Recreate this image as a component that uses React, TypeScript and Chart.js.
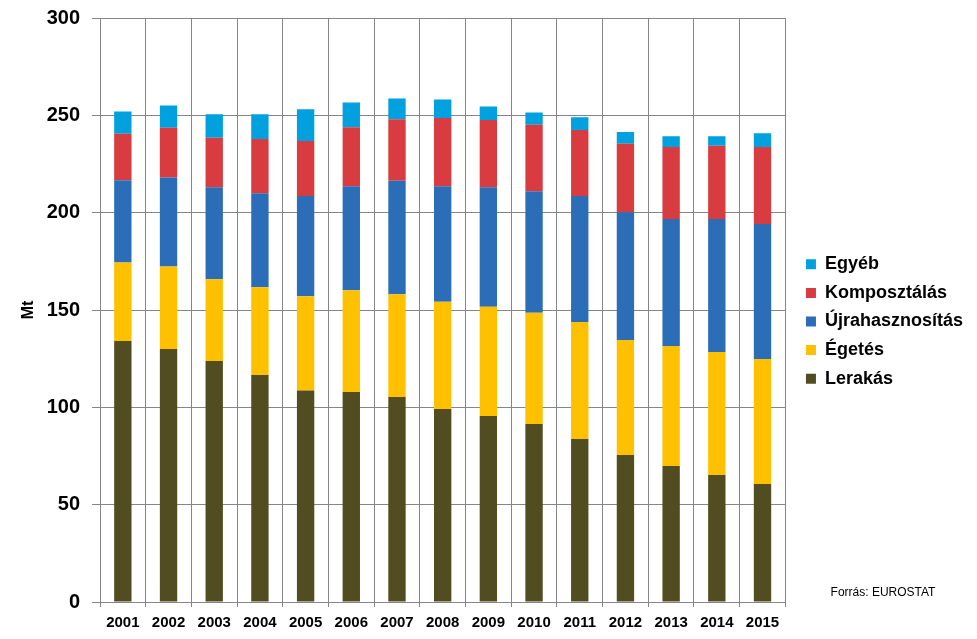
import React, { useEffect, useRef } from "react";
import { Chart, registerables } from "chart.js";

Chart.register(...registerables);

const years = ["2001", "2002", "2003", "2004", "2005", "2006", "2007", "2008", "2009", "2010", "2011", "2012", "2013", "2014", "2015"];
const lerakas = [134.1, 130.0, 123.8, 116.6, 108.6, 107.9, 105.3, 99.1, 95.5, 91.4, 83.7, 75.5, 69.9, 65.2, 60.6];
const egetes = [40.3, 42.4, 42.0, 45.1, 48.5, 52.3, 52.8, 55.1, 56.2, 57.2, 60.1, 59.1, 61.6, 63.2, 64.2];
const ujrahasznositas = [42.2, 45.7, 47.3, 48.3, 51.4, 53.4, 58.3, 59.4, 61.4, 62.4, 64.7, 65.6, 65.3, 68.4, 69.4];
const komposztalas = [23.9, 25.5, 25.4, 27.8, 28.3, 30.3, 31.6, 35.0, 34.5, 34.1, 34.0, 35.2, 36.9, 37.6, 39.5];
const egyeb = [11.5, 11.5, 12.0, 12.7, 16.3, 12.7, 10.6, 9.5, 7.0, 6.4, 6.5, 6.0, 5.6, 4.9, 7.1];

const yTicks = [0, 50, 100, 150, 200, 250, 300];
const axisTitle = "Mt";
const sourceText = "Forrás: EUROSTAT";

const FONT = "'Liberation Sans', Arial, sans-serif";
const GRID = "#868686";

export default function App() {
  const ref = useRef<HTMLCanvasElement | null>(null);

  useEffect(() => {
    const canvas = ref.current;
    if (!canvas) return;
    const sourcePlugin = {
      id: "sourceText",
      afterLayout(chart: any) {
        const lg = chart.legend;
        if (lg) {
          lg.left += 10;
          lg.right += 10;
          lg.top -= 7;
          lg.bottom -= 7;
        }
      },
      afterDraw(chart: any) {
        const ctx = chart.ctx;
        ctx.save();
        ctx.font = `12px ${FONT}`;
        ctx.fillStyle = "#000";
        ctx.textAlign = "center";
        ctx.textBaseline = "middle";
        ctx.fillText(sourceText, 883, 593);
        ctx.restore();
      },
    };
    const mk = (label: string, data: number[], color: string) => ({
      label,
      data,
      backgroundColor: color,
      borderWidth: 0,
      barPercentage: 0.38,
      categoryPercentage: 1,
    });
    const chart = new Chart(canvas, {
      type: "bar",
      data: {
        labels: years,
        datasets: [
          mk("Lerakás", lerakas, "#514D21"),
          mk("Égetés", egetes, "#FFC000"),
          mk("Újrahasznosítás", ujrahasznositas, "#2B6DB7"),
          mk("Komposztálás", komposztalas, "#D83B40"),
          mk("Egyéb", egyeb, "#00A1DE"),
        ],
      },
      options: {
        responsive: false,
        animation: false,
        devicePixelRatio: 1,
        layout: { padding: { top: 18, bottom: 0, left: 0, right: 14 } },
        plugins: {
          tooltip: { enabled: false },
          legend: {
            position: "right",
            reverse: true,
            labels: {
              boxWidth: 10,
              boxHeight: 10,
              padding: 10.6,
              color: "#000",
              font: { family: FONT, size: 18, weight: "bold" },
            },
          },
        },
        scales: {
          x: {
            stacked: true,
            grid: { color: GRID, lineWidth: 1, tickLength: 5, offset: true, drawTicks: true },
            border: { display: true, color: GRID },
            ticks: { color: "#000", padding: 7, font: { family: FONT, size: 15, weight: "bold" } },
          },
          y: {
            stacked: true,
            min: 0,
            max: 300,
            afterFit: (s: any) => {
              s.width = 100;
              s.paddingTop = 0;
              s.paddingBottom = 0;
            },
            afterBuildTicks: (s: any) => { s.ticks = yTicks.map((v) => ({ value: v })); },
            grid: { color: GRID, lineWidth: 1, tickLength: 8, drawTicks: true },
            border: { display: true, color: GRID },
            ticks: { color: "#000", padding: 12, font: { family: FONT, size: 20, weight: "bold" } },
            title: {
              display: true,
              text: axisTitle,
              color: "#000",
              padding: { top: 19, bottom: 0 },
              font: { family: FONT, size: 16, weight: "bold" },
            },
          },
        },
      },
      plugins: [sourcePlugin],
    } as any);
    return () => chart.destroy();
  }, []);

  return (
    <div style={{ position: "absolute", left: 0, top: 0, width: 977, height: 639, background: "#fff" }}>
      <canvas ref={ref} width={977} height={639} style={{ display: "block" }} />
    </div>
  );
}
